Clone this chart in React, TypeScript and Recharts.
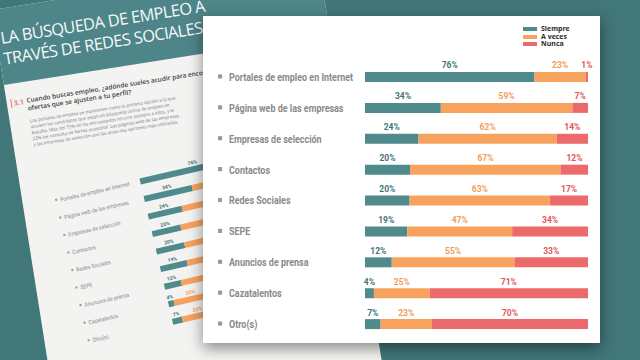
import { BarChart, Bar, XAxis, YAxis, LabelList, Legend } from 'recharts'

const categories = [
  'Portales de empleo en Internet',
  'Página web de las empresas',
  'Empresas de selección',
  'Contactos',
  'Redes Sociales',
  'SEPE',
  'Anuncios de prensa',
  'Cazatalentos',
  'Otro(s)',
]
const siempre = [76, 34, 24, 20, 20, 19, 12, 4, 7]
const aVeces = [23, 59, 62, 67, 63, 47, 55, 25, 23]
const nunca = [1, 7, 14, 12, 17, 34, 33, 71, 70]

const series = [
  { key: 'siempre', name: 'Siempre', color: '#4f8a8d', text: '#3f7578' },
  { key: 'aveces', name: 'A veces', color: '#f7a35e', text: '#f29d55' },
  { key: 'nunca', name: 'Nunca', color: '#ec6a6b', text: '#e35457' },
]

const data = categories.map((name, i) => ({
  name,
  siempre: siempre[i],
  aveces: aVeces[i],
  nunca: nunca[i],
}))

interface ChartProps {
  width: number
  height: number
  margin: { top: number; right: number; bottom: number; left: number }
  yWidth: number
  barSize: number
  catSize: number
  catWeight: number
  squeeze: number
  pctSize: number
  bulletAt: number
  textAt: number
  legend?: boolean
}

function StackedChart(p: ChartProps) {
  // the original labels use a condensed face; squeeze Roboto to match
  const tick = (props: any) => {
    const { x, y, payload } = props
    const b = p.catSize * 0.36
    return (
      <g>
        <rect x={x - p.bulletAt} y={y - b / 2 - 1} width={b} height={b} fill="#9b9b9b" />
        <text transform={`translate(${x - p.textAt},${y}) scale(${p.squeeze},1)`} dy="0.3em" fill="#8a8a8a"
          fontSize={p.catSize} fontWeight={p.catWeight} fontFamily="Roboto, sans-serif">
          {payload.value}
        </text>
      </g>
    )
  }
  const pct = (color: string) => (props: any) => {
    const { x, y, width, value } = props
    return (
      <text x={Number(x) + Number(width) / 2} y={Number(y) - p.pctSize * 0.42} fill={color}
        fontSize={p.pctSize} fontWeight={700} textAnchor="middle" fontFamily="Roboto, sans-serif">
        {value}%
      </text>
    )
  }
  const legendContent = () => (
    <div style={{ fontFamily: "'Open Sans', sans-serif", fontSize: 7, fontWeight: 700, color: '#2c2c2c' }}>
      {series.map((s) => (
        <div key={s.key} style={{ display: 'flex', alignItems: 'center', height: 7.7, lineHeight: '7.7px' }}>
          <span style={{ display: 'inline-block', width: 14, height: 4, background: s.color, marginRight: 4 }} />
          {s.name}
        </div>
      ))}
    </div>
  )
  return (
    <BarChart width={p.width} height={p.height} data={data} layout="vertical"
      stackOffset="expand" margin={p.margin}>
      <XAxis type="number" hide domain={[0, 1]} />
      <YAxis type="category" dataKey="name" width={p.yWidth} axisLine={false} tickLine={false}
        tickSize={0} tickMargin={0} interval={0} tick={tick} />
      {p.legend && (
        <Legend layout="vertical" align="center" verticalAlign="middle" content={legendContent}
          wrapperStyle={{ left: 320, top: 9, width: 80, height: 24 }} />
      )}
      {series.map((s) => (
        <Bar key={s.key} dataKey={s.key} name={s.name} stackId="a" fill={s.color}
          barSize={p.barSize} isAnimationActive={false}>
          <LabelList dataKey={s.key} content={pct(s.text)} />
        </Bar>
      ))}
    </BarChart>
  )
}

export default function App() {
  return (
    <div style={{ position: 'relative', width: 640, height: 360, overflow: 'hidden', background: '#417779' }}>
      <style>{'body{margin:0}'}</style>
      {/* tilted report page behind the card */}
      <div style={{
        position: 'absolute', left: -8, top: 10, width: 330, height: 480,
        transform: 'rotate(-9deg)', transformOrigin: '0 0', background: '#f3f3f2',
      }}>
        <div style={{
          height: 76, background: '#4e8589', color: '#f4f8f8', fontFamily: "'Open Sans', sans-serif",
          fontSize: 16.5, lineHeight: '21px', paddingTop: 18, paddingLeft: 4, boxSizing: 'border-box',
          letterSpacing: -0.6,
        }}>
          <div>LA BÚSQUEDA DE EMPLEO A</div>
          <div>TRAVÉS DE REDES SOCIALES</div>
        </div>
        <div style={{ position: 'absolute', left: 20, top: 91, width: 200, fontFamily: "'Open Sans', sans-serif" }}>
          <span style={{
            position: 'absolute', left: -16, top: 0, color: '#e08080', fontSize: 7, fontWeight: 700,
            borderLeft: '1.5px solid #e08080', paddingLeft: 2,
          }}>3.1</span>
          <div style={{ fontSize: 6.5, fontWeight: 600, color: '#3e3e3e', lineHeight: '8px' }}>
            Cuando buscas empleo, ¿adónde sueles acudir para encontrar ofertas que se ajusten a tu perfil?
          </div>
          <div style={{ fontSize: 4.5, color: '#777', lineHeight: '6px', marginTop: 5, width: 150 }}>
            Los portales de empleo se mantienen como la primera opción a la que acuden los candidatos que
            están en búsqueda activa de empleo en España. Más del 75% de los encuestados recurre siempre
            a ellos, y el 23% los consulta de forma ocasional. Las páginas web de las empresas y las
            empresas de selección son las otras dos opciones más utilizadas.
          </div>
        </div>
      </div>
      {/* the same chart printed on the page, seen at an angle */}
      <div style={{
        position: 'absolute', left: -5, top: 175, transform: 'rotate(-13deg)', transformOrigin: '0 0',
      }}>
        <StackedChart width={300} height={202} margin={{ top: 30, right: 15, bottom: 10, left: 0 }}
          yWidth={140} barSize={6} catSize={5.8} catWeight={400} squeeze={0.9} pctSize={5}
          bulletAt={87} textAt={82} />
      </div>
      {/* card */}
      <div style={{
        position: 'absolute', left: 203, top: 16, width: 397, height: 327, background: '#fff',
        boxShadow: '0 5px 14px rgba(0,0,0,0.45)',
      }}>
        <StackedChart width={397} height={327} margin={{ top: 46, right: 12, bottom: 3, left: 0 }}
          yWidth={162} barSize={10} catSize={11.5} catWeight={700} squeeze={0.78} pctSize={8.5}
          bulletAt={147} textAt={136} legend />
      </div>
    </div>
  )
}
